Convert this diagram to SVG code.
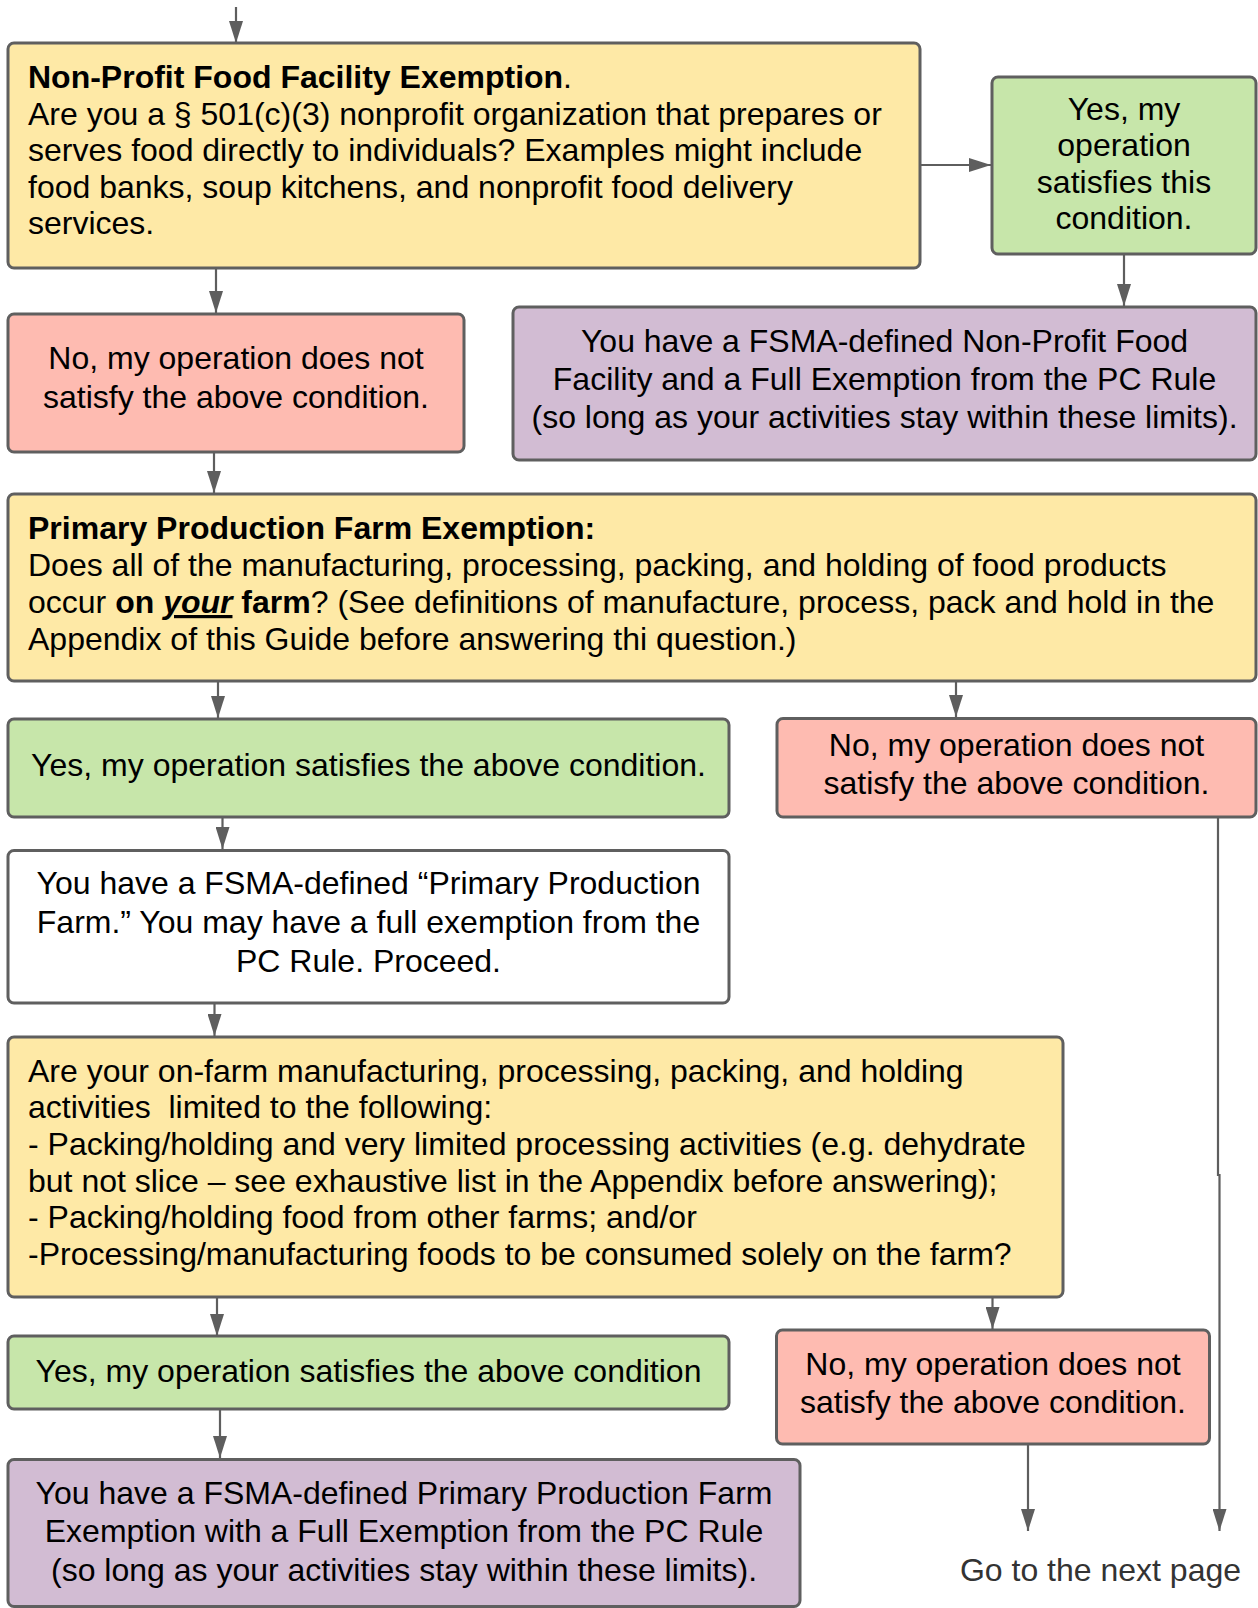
<svg xmlns="http://www.w3.org/2000/svg" width="1258" height="1608" viewBox="0 0 1258 1608">
<style>
.box{stroke:#5f5f5f;stroke-width:3}
.y{fill:#FEE9A6}.g{fill:#C7E6AA}.r{fill:#FEBBB1}.p{fill:#D2BCD3}.w{fill:#FFFFFF}
text{font-family:"Liberation Sans",Arial,sans-serif;font-size:32px;fill:#000}
.c{text-anchor:middle}
.b{font-weight:bold}
.conn{fill:none;stroke:#5e5e5e;stroke-width:2.2}
.note{fill:#333333}
</style>
<defs>
<marker id="ah" markerUnits="userSpaceOnUse" markerWidth="22" markerHeight="14" refX="22" refY="7" orient="auto">
<path d="M0,0 L22,7 L0,14 z" fill="#5e5e5e"/>
</marker>
</defs>
<rect width="1258" height="1608" fill="#ffffff"/>

<g id="connectors">
<path class="conn" d="M236,7 L236,43" marker-end="url(#ah)"/>
<path class="conn" d="M920,165 L991,165" marker-end="url(#ah)"/>
<path class="conn" d="M1124,254 L1124,306" marker-end="url(#ah)"/>
<path class="conn" d="M216,268 L216,313" marker-end="url(#ah)"/>
<path class="conn" d="M214,453 L214,493" marker-end="url(#ah)"/>
<path class="conn" d="M218,682 L218,718" marker-end="url(#ah)"/>
<path class="conn" d="M956,682 L956,717" marker-end="url(#ah)"/>
<path class="conn" d="M222.5,817 L222.5,849" marker-end="url(#ah)"/>
<path class="conn" d="M214.5,1003 L214.5,1036" marker-end="url(#ah)"/>
<path class="conn" d="M217,1297 L217,1336" marker-end="url(#ah)"/>
<path class="conn" d="M992.5,1297 L992.5,1329" marker-end="url(#ah)"/>
<path class="conn" d="M220,1409 L220,1458" marker-end="url(#ah)"/>
<path class="conn" d="M1028,1444 L1028,1531" marker-end="url(#ah)"/>
<path class="conn" d="M1218,817 L1218,1175 L1219.5,1175 L1219.5,1531" marker-end="url(#ah)"/>
</g>

<g id="nonprofit-question">
<rect class="box y" x="8" y="43" width="912" height="225" rx="6"/>
<text x="28" y="87.5"><tspan class="b">Non-Profit Food Facility Exemption</tspan>.</text>
<text x="28" y="124.5">Are you a § 501(c)(3) nonprofit organization that prepares or</text>
<text x="28" y="161">serves food directly to individuals? Examples might include</text>
<text x="28" y="197.7">food banks, soup kitchens, and nonprofit food delivery</text>
<text x="28" y="234.4">services.</text>
</g>

<g id="nonprofit-yes">
<rect class="box g" x="992" y="77" width="264" height="177" rx="6"/>
<text class="c" x="1124" y="119.5">Yes, my</text>
<text class="c" x="1124" y="156">operation</text>
<text class="c" x="1124" y="192.7">satisfies this</text>
<text class="c" x="1124" y="229.4">condition.</text>
</g>

<g id="nonprofit-result">
<rect class="box p" x="513" y="307" width="743" height="153" rx="6"/>
<text class="c" x="884.5" y="351.5">You have a FSMA-defined Non-Profit Food</text>
<text class="c" x="884.5" y="389.5">Facility and a Full Exemption from the PC Rule</text>
<text class="c" x="884.5" y="427.5">(so long as your activities stay within these limits).</text>
</g>

<g id="nonprofit-no">
<rect class="box r" x="8" y="314" width="456" height="138" rx="6"/>
<text class="c" x="236" y="369">No, my operation does not</text>
<text class="c" x="236" y="407.5">satisfy the above condition.</text>
</g>

<g id="ppf-question">
<rect class="box y" x="8" y="494" width="1248" height="187" rx="6"/>
<text x="28" y="538.8" class="b">Primary Production Farm Exemption:</text>
<text x="28" y="576">Does all of the manufacturing, processing, packing, and holding of food products</text>
<text x="28" y="613">occur <tspan class="b">on </tspan><tspan class="b" font-style="italic" text-decoration="underline">your</tspan><tspan class="b"> farm</tspan>? (See definitions of manufacture, process, pack and hold in the</text>
<text x="28" y="650">Appendix of this Guide before answering thi question.)</text>
</g>

<g id="ppf-yes">
<rect class="box g" x="8" y="719" width="721" height="98" rx="6"/>
<text class="c" x="368.5" y="775.5">Yes, my operation satisfies the above condition.</text>
</g>

<g id="ppf-no">
<rect class="box r" x="777" y="718.5" width="479" height="98.5" rx="6"/>
<text class="c" x="1016.5" y="756">No, my operation does not</text>
<text class="c" x="1016.5" y="794">satisfy the above condition.</text>
</g>

<g id="ppf-result">
<rect class="box w" x="8" y="850.5" width="721" height="152.5" rx="6"/>
<text class="c" x="368.5" y="894">You have a FSMA-defined “Primary Production</text>
<text class="c" x="368.5" y="932.5">Farm.” You may have a full exemption from the</text>
<text class="c" x="368.5" y="971.5">PC Rule. Proceed.</text>
</g>

<g id="activities-question">
<rect class="box y" x="8" y="1037" width="1055" height="260" rx="6"/>
<text x="28" y="1081.5">Are your on-farm manufacturing, processing, packing, and holding</text>
<text x="28" y="1118.2" xml:space="preserve">activities  limited to the following:</text>
<text x="28" y="1154.9">- Packing/holding and very limited processing activities (e.g. dehydrate</text>
<text x="28" y="1191.5">but not slice – see exhaustive list in the Appendix before answering);</text>
<text x="28" y="1228.2">- Packing/holding food from other farms; and/or</text>
<text x="28" y="1264.9">-Processing/manufacturing foods to be consumed solely on the farm?</text>
</g>

<g id="activities-yes">
<rect class="box g" x="8" y="1336" width="721" height="73" rx="6"/>
<text class="c" x="368.5" y="1382">Yes, my operation satisfies the above condition</text>
</g>

<g id="activities-no">
<rect class="box r" x="776.5" y="1330" width="433" height="114" rx="6"/>
<text class="c" x="993" y="1375">No, my operation does not</text>
<text class="c" x="993" y="1413">satisfy the above condition.</text>
</g>

<g id="activities-result">
<rect class="box p" x="8" y="1459.5" width="792" height="147" rx="6"/>
<text class="c" x="404" y="1504">You have a FSMA-defined Primary Production Farm</text>
<text class="c" x="404" y="1542">Exemption with a Full Exemption from the PC Rule</text>
<text class="c" x="404" y="1580.5">(so long as your activities stay within these limits).</text>
</g>

<g id="next-page">
<text class="c note" x="1100.5" y="1580.5">Go to the next page</text>
</g>
</svg>
